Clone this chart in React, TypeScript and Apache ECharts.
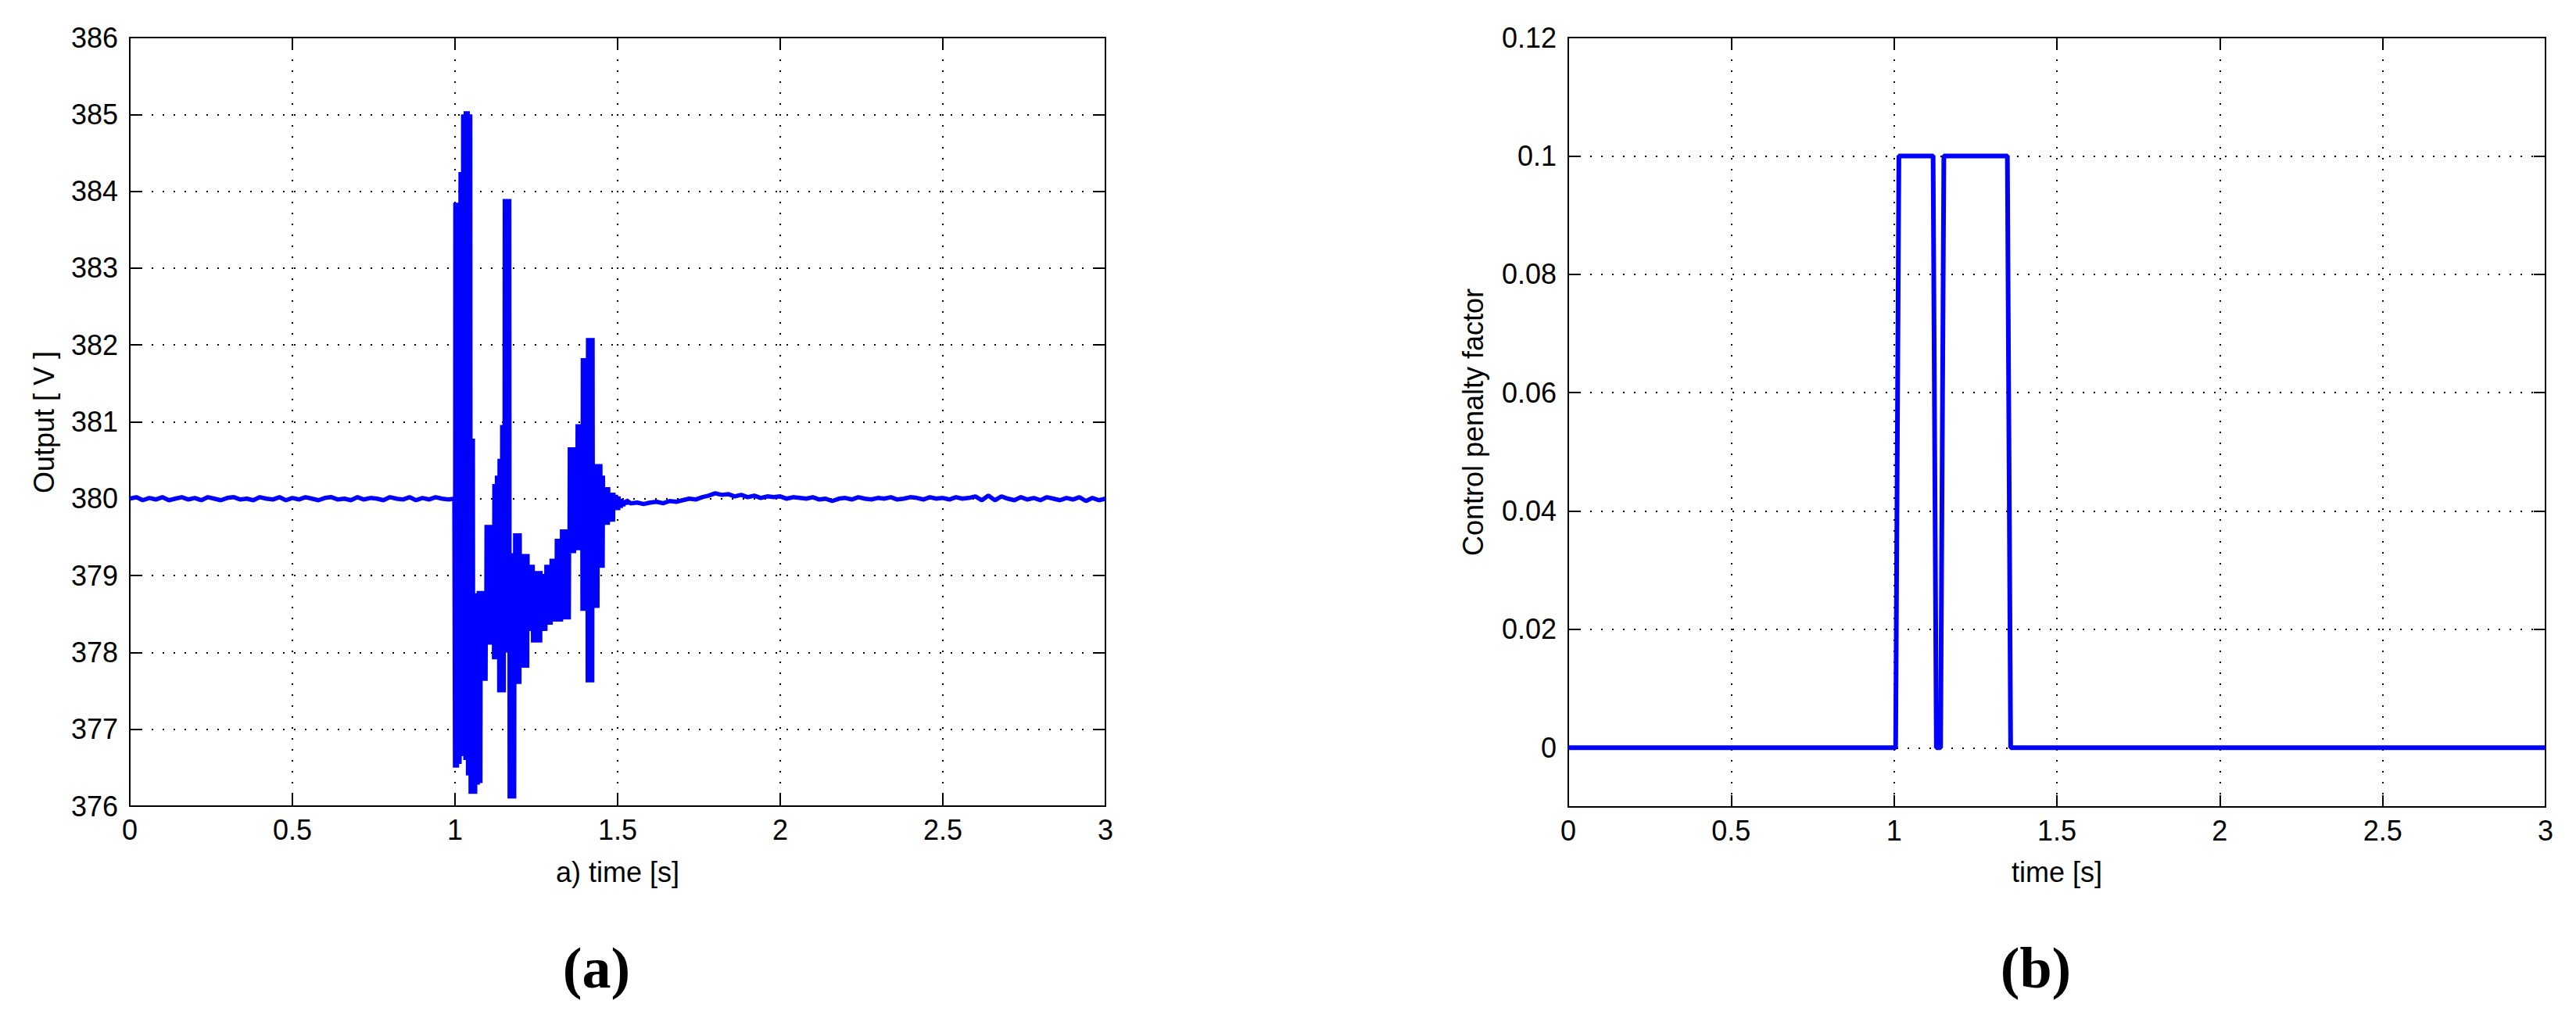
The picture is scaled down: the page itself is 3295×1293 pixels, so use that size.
import React, { useEffect, useRef } from "react";
import * as echarts from "echarts";

// ---------- axis ticks ----------
const timeTicks = [0, 0.5, 1, 1.5, 2, 2.5, 3];
const outputTicks = [376, 377, 378, 379, 380, 381, 382, 383, 384, 385, 386];
const penaltyTicks = [0, 0.02, 0.04, 0.06, 0.08, 0.1, 0.12];
const penaltyAxisMin = -0.01;

// ---------- texts ----------
const outputYName = "Output [ V ]";
const outputXName = "a) time [s]";
const penaltyYName = "Control penalty factor";
const penaltyXName = "time [s]";
const panelLabels = ["(a)", "(b)"];

// ---------- (a) output voltage ----------
// steady part before the disturbance, sampled every 0.02 s from t = 0
const outputBeforeStart = 0;
const outputBeforeStep = 0.02;
const outputBefore = [
  380.0, 380.02, 379.98, 380.01, 379.99, 380.02, 379.98, 380.0, 380.02, 379.99,
  380.01, 379.98, 380.02, 380.0, 379.98, 380.01, 380.02, 379.99, 380.0, 379.98,
  380.02, 380.0, 379.99, 380.02, 379.98, 380.01, 379.99, 380.02, 380.0, 379.98,
  380.01, 380.02, 379.99, 380.0, 379.98, 380.02, 379.99, 380.01, 380.0, 379.98,
  380.02, 380.0, 379.99, 380.02, 379.98, 380.01, 379.99, 380.02, 380.0, 379.99,
];
// last steady sample right before the step at t = 1.0
const outputJumpTime = 0.998;
const outputJumpValue = 380.0;
// transient: the output switches fast between a low and a high value;
// one (low, high) pair read every 0.008 s from t = 1.0
const transientStart = 1.0;
const transientStep = 0.008;
const transientLow = [
  376.5, 376.55, 378.2, 376.65, 376.6, 376.4, 376.16, 376.16, 376.28, 376.3,
  377.63, 377.63, 378.1, 378.1, 378.17, 377.91, 377.91, 377.48, 377.48, 378.02,
  378.0, 376.1, 376.1, 377.59, 377.59, 377.8, 377.8, 377.8, 378.28, 378.28,
  378.13, 378.13, 378.13, 378.28, 378.28, 378.36, 378.36, 378.4, 378.4, 378.4,
  378.4, 378.43, 378.43, 378.43, 379.29, 379.29, 379.33, 379.33, 379.33, 378.54,
  378.54, 377.61, 377.61, 378.58, 378.58, 379.1, 379.1, 379.66, 379.66, 379.7,
  379.7, 379.85, 379.85, 379.88, 379.9, 379.92,
];
const transientHigh = [
  383.85, 383.85, 384.25, 385.0, 385.04, 385.0, 380.78, 377.65, 378.77, 378.8,
  378.77, 378.8, 379.66, 379.66, 379.66, 380.19, 380.3, 380.52, 380.96, 383.9,
  383.9, 379.29, 379.29, 379.55, 379.55, 379.28, 379.28, 379.28, 379.14, 379.14,
  379.06, 379.06, 379.06, 379.02, 379.02, 379.14, 379.14, 379.22, 379.22, 379.48,
  379.48, 379.6, 379.6, 379.6, 380.67, 380.67, 380.67, 380.97, 380.97, 381.83,
  381.83, 382.09, 382.09, 380.45, 380.45, 380.45, 380.3, 380.15, 380.15, 380.08,
  380.08, 380.05, 380.03, 380.0, 379.98, 379.98,
];
// number of low/high switches inside each 0.008 s read window
const switchesPerWindow = 4;
// settled part, sampled every 0.02 s from t = 1.54
const outputAfterStart = 1.54;
const outputAfterStep = 0.02;
const outputAfter = [
  379.94, 379.95, 379.93, 379.95, 379.96, 379.94, 379.97, 379.96, 379.98, 380.0,
  379.99, 380.02, 380.04, 380.07, 380.05, 380.06, 380.03, 380.05, 380.02, 380.04,
  380.01, 380.03, 380.02, 380.03, 380.0, 380.02, 380.01, 380.0, 380.02, 379.99,
  380.0, 379.97, 380.0, 380.01, 379.99, 380.02, 380.0, 379.99, 380.01, 380.0,
  380.02, 379.99, 380.0, 380.02, 380.01, 379.99, 380.02, 380.0, 380.01, 379.99,
  380.02, 380.0, 380.01, 380.03, 379.98, 380.04, 379.98, 380.03, 380.0, 379.98,
  380.02, 379.99, 380.01, 379.98, 380.02, 380.0, 379.98, 380.01, 379.99, 380.02,
  379.97, 380.01, 379.98, 380.0,
];

// ---------- (b) control penalty factor ----------
const penaltyTime = [0, 1.005, 1.01, 1.015, 1.12, 1.125, 1.13, 1.143, 1.148, 1.153, 1.348, 1.353, 1.358, 3.0];
const penaltyValue = [0, 0, 0.05, 0.1, 0.1, 0.05, 0, 0, 0.05, 0.1, 0.1, 0.05, 0, 0];

function buildOutputData(): [number, number][] {
  const data: [number, number][] = [];
  outputBefore.forEach((v, i) => data.push([+(outputBeforeStart + i * outputBeforeStep).toFixed(4), v]));
  data.push([outputJumpTime, outputJumpValue]);
  const sub = transientStep / (2 * switchesPerWindow);
  transientLow.forEach((lo, i) => {
    const t0 = transientStart + i * transientStep;
    for (let k = 0; k < switchesPerWindow; k++) {
      data.push([+(t0 + 2 * k * sub).toFixed(5), lo]);
      data.push([+(t0 + (2 * k + 1) * sub).toFixed(5), transientHigh[i]]);
    }
  });
  outputAfter.forEach((v, i) => data.push([+(outputAfterStart + i * outputAfterStep).toFixed(4), v]));
  return data;
}

const FONT = "'Liberation Sans', Arial, Helvetica, sans-serif";
const BLUE = "#0000ff";

function axisBase(ticks: number[], extra: any = {}) {
  return {
    min: ticks[0],
    max: ticks[ticks.length - 1],
    interval: +(ticks[1] - ticks[0]).toFixed(6),
    ...extra,
  };
}

const lineCommon = { onZero: false, lineStyle: { color: "#000", width: 2 } };
const tickCommon = { show: true, inside: true, length: 15, lineStyle: { color: "#000", width: 2 } };
const gridLine = { show: true, lineStyle: { color: "#000", width: 2, type: [2, 12] } };
const labelStyle = { color: "#000", fontSize: 36, fontFamily: FONT };

export default function App() {
  const ref = useRef<HTMLDivElement>(null);
  useEffect(() => {
    if (!ref.current) return;
    const chart = echarts.init(ref.current, undefined, { renderer: "svg" });
    const fmtTime = (v: number) => String(+v.toFixed(2));
    const penaltyStep = +(penaltyTicks[1] - penaltyTicks[0]).toFixed(6);
    const option: any = {
      animation: false,
      backgroundColor: "#ffffff",
      grid: [
        { left: 166, top: 48, width: 1248, height: 983, outerBoundsMode: "none", containLabel: false },
        { left: 2006, top: 48, width: 1250, height: 984, outerBoundsMode: "none", containLabel: false },
      ],
      xAxis: [
        {
          type: "value", gridIndex: 0, position: "bottom", ...axisBase(timeTicks),
          axisLine: lineCommon, axisTick: tickCommon, splitLine: gridLine,
          axisLabel: { ...labelStyle, margin: 12, formatter: fmtTime },
        },
        {
          type: "value", gridIndex: 0, position: "top", ...axisBase(timeTicks),
          axisLine: lineCommon, axisTick: tickCommon, splitLine: { show: false }, axisLabel: { show: false },
        },
        {
          type: "value", gridIndex: 1, position: "bottom", ...axisBase(timeTicks),
          axisLine: lineCommon, axisTick: tickCommon, splitLine: gridLine,
          axisLabel: { ...labelStyle, margin: 12, formatter: fmtTime },
        },
        {
          type: "value", gridIndex: 1, position: "top", ...axisBase(timeTicks),
          axisLine: lineCommon, axisTick: tickCommon, splitLine: { show: false }, axisLabel: { show: false },
        },
      ],
      yAxis: [
        {
          type: "value", gridIndex: 0, position: "left", ...axisBase(outputTicks),
          axisLine: lineCommon, axisTick: tickCommon, splitLine: gridLine,
          axisLabel: { ...labelStyle, margin: 15 },
        },
        {
          type: "value", gridIndex: 0, position: "right", ...axisBase(outputTicks),
          axisLine: lineCommon, axisTick: tickCommon, splitLine: { show: false }, axisLabel: { show: false },
        },
        {
          type: "value", gridIndex: 1, position: "left",
          min: penaltyAxisMin, max: penaltyTicks[penaltyTicks.length - 1],
          splitNumber: penaltyTicks.length - 1,
          minInterval: penaltyStep, maxInterval: penaltyStep,
          axisLine: lineCommon, axisTick: tickCommon, splitLine: gridLine,
          axisLabel: {
            ...labelStyle, margin: 15, showMinLabel: false,
            formatter: (v: number) => (v < penaltyTicks[0] - 1e-9 ? "" : String(+v.toFixed(3))),
          },
        },
        {
          type: "value", gridIndex: 1, position: "right",
          min: penaltyAxisMin, max: penaltyTicks[penaltyTicks.length - 1],
          splitNumber: penaltyTicks.length - 1,
          minInterval: penaltyStep, maxInterval: penaltyStep,
          axisLine: lineCommon, axisTick: tickCommon, splitLine: { show: false }, axisLabel: { show: false },
        },
      ],
      series: [
        {
          type: "line", xAxisIndex: 0, yAxisIndex: 0, data: buildOutputData(),
          showSymbol: false, symbol: "none", clip: true,
          lineStyle: { color: BLUE, width: 5.5 }, z: 5,
        },
        {
          type: "line", xAxisIndex: 2, yAxisIndex: 2,
          data: penaltyTime.map((t, i) => [t, penaltyValue[i]]),
          showSymbol: false, symbol: "none", clip: true,
          lineStyle: { color: BLUE, width: 6 }, z: 5,
        },
      ],
      graphic: [
        {
          type: "text", x: 56, y: 540, rotation: Math.PI / 2,
          style: { text: outputYName, fontSize: 36, fontFamily: FONT, fill: "#000", align: "center", verticalAlign: "middle" },
        },
        {
          type: "text", x: 1884, y: 540, rotation: Math.PI / 2,
          style: { text: penaltyYName, fontSize: 36, fontFamily: FONT, fill: "#000", align: "center", verticalAlign: "middle" },
        },
        {
          type: "text", x: 790, y: 1115,
          style: { text: outputXName, fontSize: 36, fontFamily: FONT, fill: "#000", align: "center", verticalAlign: "middle" },
        },
        {
          type: "text", x: 2631, y: 1115,
          style: { text: penaltyXName, fontSize: 36, fontFamily: FONT, fill: "#000", align: "center", verticalAlign: "middle" },
        },
        {
          type: "text", x: 763, y: 1238,
          style: { text: panelLabels[0], fontSize: 74, fontWeight: "bold", fontFamily: "'Liberation Serif', 'DejaVu Serif', serif", fill: "#000", align: "center", verticalAlign: "middle" },
        },
        {
          type: "text", x: 2604, y: 1238,
          style: { text: panelLabels[1], fontSize: 74, fontWeight: "bold", fontFamily: "'Liberation Serif', 'DejaVu Serif', serif", fill: "#000", align: "center", verticalAlign: "middle" },
        },
      ],
    };
    chart.setOption(option);
    return () => chart.dispose();
  }, []);
  return (
    <div
      ref={ref}
      style={{ position: "fixed", left: 0, top: 0, width: "3295px", height: "1293px", background: "#fff" }}
    />
  );
}
